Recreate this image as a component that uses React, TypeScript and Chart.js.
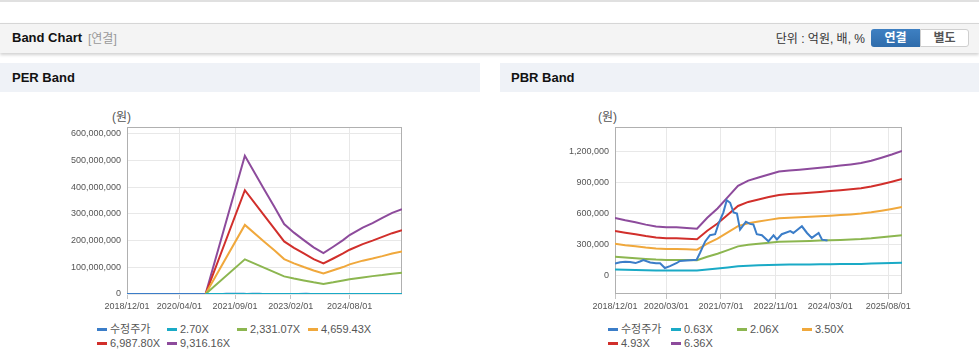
import React, { useEffect, useRef } from 'react';
import { Chart, registerables } from 'chart.js';

Chart.register(...registerables);

const FONT = "'Liberation Sans', Arial, 'Noto Sans CJK KR', sans-serif";

// ---- x axis: months since 2018/12 ----
const X_MAX_MONTH = 84;
const perTickMonths = [0, 16, 33, 50, 68];
const perTickLabels = ['2018/12/01', '2020/04/01', '2021/09/01', '2023/02/01', '2024/08/01'];
const pbrTickMonths = [0, 15, 31, 47, 63, 80];
const pbrTickLabels = ['2018/12/01', '2020/03/01', '2021/07/01', '2022/11/01', '2024/03/01', '2025/08/01'];

// ---- y axis ticks ----
const perYTicks = [0, 100000000, 200000000, 300000000, 400000000, 500000000, 600000000];
const perYMin = 0;
const perYMax = 626000000;
const pbrYTicks = [0, 300000, 600000, 900000, 1200000];
const pbrYMin = -180000;
const pbrYMax = 1440000;

// ---- legend labels ----
const priceLabel = '수정주가';
const perBandLabels = ['2.70X', '2,331.07X', '4,659.43X', '6,987.80X', '9,316.16X'];
const pbrBandLabels = ['0.63X', '2.06X', '3.50X', '4.93X', '6.36X'];

// ---- 수정주가 (adjusted price, 원) ----
const priceMonths = [0, 1.5, 3, 4.4, 6, 7.3, 8.3, 10.3, 12, 13.2, 14.6, 16.1, 18.1, 19, 22, 23.9, 24.9, 26.4, 27.8, 29.3, 30.3, 31.7, 32.7, 33.7, 34.7, 35.7, 36.6, 38.3, 39.5, 40.5, 41.5, 43, 44.9, 46.4, 47.4, 48.8, 51.3, 52.2, 54.7, 56.2, 57.6, 59.6, 60.6, 62.2];
const priceValues = [115000, 128000, 133000, 130000, 120000, 135000, 150000, 126000, 118000, 118000, 72000, 90000, 121000, 140000, 148000, 152000, 220000, 330000, 390000, 400000, 500000, 610000, 730000, 705000, 610000, 600000, 445000, 520000, 500000, 495000, 400000, 390000, 331000, 390000, 350000, 400000, 430000, 412000, 477000, 412000, 364000, 412000, 347000, 338000];

// ---- PER bands (원) ----
const perBandMonths = [24, 36, 42, 45, 48, 51, 54, 57, 60, 63, 66, 68, 72, 75, 78, 81, 84];
const perBand270 = [0, 150000, 113000, 95000, 76000, 67000, 59000, 51000, 44000, 51000, 59000, 64000, 72000, 77000, 83000, 88000, 92000];
const perBand2331 = [0, 130e6, 98e6, 82e6, 66e6, 58e6, 51e6, 44e6, 38e6, 44e6, 51e6, 55e6, 62e6, 67e6, 71e6, 76e6, 80e6];
const perBand4659 = [0, 259e6, 195e6, 164e6, 131e6, 115e6, 101e6, 88e6, 77e6, 89e6, 101e6, 111e6, 125e6, 133e6, 142e6, 152e6, 159e6];
const perBand6987 = [0, 389e6, 293e6, 245e6, 197e6, 173e6, 152e6, 131e6, 115e6, 133e6, 152e6, 166e6, 187e6, 200e6, 214e6, 228e6, 239e6];
const perBand9316 = [0, 518e6, 390e6, 327e6, 262e6, 230e6, 202e6, 175e6, 153e6, 177e6, 202e6, 221e6, 249e6, 266e6, 285e6, 304e6, 318e6];

// ---- PBR bands (원) ----
const pbrBandMonths = [0, 3, 6, 9, 12, 15, 18, 21, 24, 27, 30, 33, 36, 39, 42, 45, 48, 51, 54, 57, 60, 63, 66, 69, 72, 75, 78, 81, 84];
const pbrBand063 = [57000, 55000, 53000, 51000, 49000, 48000, 48000, 47000, 47000, 58000, 67000, 78000, 90000, 95000, 98000, 101000, 104000, 105000, 106000, 107000, 108000, 109000, 110000, 111000, 112000, 115000, 118000, 121000, 124000];
const pbrBand206 = [181000, 173000, 167000, 160000, 154000, 151000, 151000, 149000, 147000, 181000, 211000, 246000, 282000, 298000, 308000, 318000, 327000, 330000, 332000, 335000, 339000, 342000, 345000, 349000, 353000, 360000, 370000, 380000, 391000];
const pbrBand350 = [307000, 294000, 284000, 271000, 261000, 257000, 257000, 253000, 250000, 308000, 358000, 418000, 479000, 506000, 523000, 539000, 554000, 560000, 564000, 569000, 575000, 580000, 586000, 592000, 600000, 612000, 628000, 645000, 664000];
const pbrBand493 = [432000, 415000, 400000, 382000, 367000, 362000, 362000, 357000, 352000, 434000, 504000, 589000, 674000, 713000, 736000, 760000, 781000, 789000, 795000, 802000, 810000, 818000, 826000, 835000, 845000, 862000, 885000, 909000, 935000];
const pbrBand636 = [558000, 535000, 516000, 493000, 474000, 467000, 467000, 460000, 454000, 560000, 650000, 760000, 870000, 920000, 950000, 980000, 1008000, 1018000, 1026000, 1035000, 1045000, 1055000, 1066000, 1077000, 1090000, 1112000, 1142000, 1173000, 1207000];

const COLORS = {
  price: '#3b7dc8',
  cyan: '#1aaac6',
  green: '#8cb650',
  orange: '#f0a83c',
  red: '#d12f2b',
  purple: '#8d4b9c',
};
const bandColors = [COLORS.cyan, COLORS.green, COLORS.orange, COLORS.red, COLORS.purple];

const xy = (xs: number[], ys: number[]) => xs.map((x, i) => ({ x, y: ys[i] }));

const framePlugin = {
  id: 'frame',
  beforeDatasetsDraw(chart: any) {
    const { ctx, chartArea } = chart;
    const l = Math.round(chartArea.left) + 0.5;
    const t = Math.round(chartArea.top) + 0.5;
    const r = Math.round(chartArea.right) - 0.5;
    const b = Math.round(chartArea.bottom) - 0.5;
    ctx.save();
    ctx.strokeStyle = '#b0b0b0';
    ctx.lineWidth = 1;
    ctx.strokeRect(l, t, r - l, b - t);
    ctx.restore();
  },
};

function makeConfig(p: {
  datasets: any[];
  tickMonths: number[];
  tickLabels: string[];
  yTicks: number[];
  yMin: number;
  yMax: number;
  yWidth: number;
  padding: { left: number; right: number; top: number; bottom: number };
}) {
  return {
    type: 'line',
    data: { datasets: p.datasets },
    plugins: [framePlugin],
    options: {
      animation: false,
      responsive: false,
      maintainAspectRatio: false,
      layout: { padding: p.padding },
      plugins: { legend: { display: false }, tooltip: { enabled: false } },
      elements: { point: { radius: 0 }, line: { borderWidth: 2, tension: 0 } },
      scales: {
        x: {
          type: 'linear',
          min: 0,
          max: X_MAX_MONTH,
          afterBuildTicks: (s: any) => {
            s.ticks = p.tickMonths.map((v) => ({ value: v }));
          },
          afterFit: (s: any) => {
            s.height = 20;
          },
          ticks: {
            autoSkip: false,
            maxRotation: 0,
            padding: 2,
            color: '#555',
            font: { family: FONT, size: 9 },
            callback: (v: any) => {
              const i = p.tickMonths.indexOf(Number(v));
              return i >= 0 ? p.tickLabels[i] : '';
            },
          },
          grid: { color: '#e8e8e8', tickLength: 5, tickColor: '#c4c4c4' },
          border: { display: false },
        },
        y: {
          type: 'linear',
          min: p.yMin,
          max: p.yMax,
          afterBuildTicks: (s: any) => {
            s.ticks = p.yTicks.map((v) => ({ value: v }));
          },
          afterFit: (s: any) => {
            s.width = p.yWidth;
          },
          ticks: {
            padding: 6,
            color: '#555',
            font: { family: FONT, size: 9 },
            callback: (v: any) => Number(v).toLocaleString('en-US'),
          },
          grid: { color: '#e8e8e8', drawTicks: false },
          border: { display: false },
        },
      },
    },
  };
}

function ChartCanvas({ config, left, top, width, height }: any) {
  const ref = useRef<HTMLCanvasElement>(null);
  useEffect(() => {
    const chart = new Chart(ref.current as HTMLCanvasElement, config);
    return () => chart.destroy();
  }, []);
  return (
    <canvas
      ref={ref}
      width={width}
      height={height}
      style={{ position: 'absolute', left, top, width, height }}
    />
  );
}

const perConfig = makeConfig({
  datasets: [
    { label: priceLabel, data: xy(priceMonths, priceValues), borderColor: COLORS.price, order: 3 },
    ...[perBand270, perBand2331, perBand4659, perBand6987, perBand9316].map((vals, i) => ({
      label: perBandLabels[i],
      data: xy(perBandMonths, vals),
      borderColor: bandColors[i],
      order: 1,
    })),
  ],
  tickMonths: perTickMonths,
  tickLabels: perTickLabels,
  yTicks: perYTicks,
  yMin: perYMin,
  yMax: perYMax,
  yWidth: 80,
  padding: { left: 47, right: 78, top: 27, bottom: 6 },
});

const pbrConfig = makeConfig({
  datasets: [
    { label: priceLabel, data: xy(priceMonths, priceValues), borderColor: COLORS.price, order: 0 },
    ...[pbrBand063, pbrBand206, pbrBand350, pbrBand493, pbrBand636].map((vals, i) => ({
      label: pbrBandLabels[i],
      data: xy(pbrBandMonths, vals),
      borderColor: bandColors[i],
      order: 1,
    })),
  ],
  tickMonths: pbrTickMonths,
  tickLabels: pbrTickLabels,
  yTicks: pbrYTicks,
  yMin: pbrYMin,
  yMax: pbrYMax,
  yWidth: 60,
  padding: { left: 65, right: 77, top: 27, bottom: 6 },
});

function Legend({ labels, cols, rows }: { labels: string[]; cols: number[]; rows: number[] }) {
  const colors = [COLORS.price, ...bandColors];
  return (
    <>
      {labels.map((lab, i) => {
        const x = cols[i % 4];
        const y = rows[Math.floor(i / 4)];
        return (
          <React.Fragment key={i}>
            <div style={{ position: 'absolute', left: x, top: y - 1, width: 10, height: 3, background: colors[i] }} />
            <div
              style={{
                position: 'absolute',
                left: x + 13,
                top: y - 7,
                height: 14,
                lineHeight: '14px',
                fontSize: 11,
                color: '#555',
                whiteSpace: 'nowrap',
                fontFamily: FONT,
              }}
            >
              {lab}
            </div>
          </React.Fragment>
        );
      })}
    </>
  );
}

export default function App() {
  const abs = (o: any) => ({ position: 'absolute' as const, ...o });
  return (
    <div style={{ position: 'relative', width: 979, height: 361, overflow: 'hidden', background: '#fff', fontFamily: FONT }}>
      <style>{`body{margin:0;}`}</style>
      <div style={abs({ left: 0, top: 0, width: 979, height: 2, background: '#e0e0e0' })} />
      {/* header bar */}
      <div
        style={abs({
          left: 0,
          top: 23,
          width: 979,
          height: 30,
          background: '#f4f4f4',
          borderTop: '1px solid #d6d6d6',
          boxSizing: 'border-box',
          boxShadow: '0 2px 3px rgba(0,0,0,0.18)',
        })}
      />
      <div style={abs({ left: 12, top: 30, lineHeight: '16px', fontSize: 13, fontWeight: 'bold', color: '#111' })}>Band Chart</div>
      <div style={abs({ left: 88, top: 31, lineHeight: '16px', fontSize: 12, color: '#999' })}>[연결]</div>
      <div style={abs({ right: 114, top: 31, lineHeight: '16px', fontSize: 12, color: '#333', whiteSpace: 'nowrap' })}>
        단위 : 억원, 배, %
      </div>
      <div
        style={abs({
          left: 871,
          top: 29,
          width: 49,
          height: 18,
          background: 'linear-gradient(#3e80c2, #2f6cab)',
          borderRadius: '3px 0 0 3px',
          color: '#fff',
          fontSize: 12,
          fontWeight: 'bold',
          lineHeight: '18px',
          textAlign: 'center',
        })}
      >
        연결
      </div>
      <div
        style={abs({
          left: 920,
          top: 29,
          width: 49,
          height: 18,
          boxSizing: 'border-box',
          background: '#fff',
          border: '1px solid #cfcfcf',
          borderRadius: '0 3px 3px 0',
          color: '#555',
          fontSize: 12,
          fontWeight: 'bold',
          lineHeight: '16px',
          textAlign: 'center',
        })}
      >
        별도
      </div>

      {/* section headers */}
      <div style={abs({ left: 0, top: 63, width: 480, height: 29, background: '#eff2f7' })} />
      <div style={abs({ left: 12, top: 70, lineHeight: '16px', fontSize: 13, fontWeight: 'bold', color: '#111' })}>PER Band</div>
      <div style={abs({ left: 500, top: 63, width: 479, height: 29, background: '#eff2f7' })} />
      <div style={abs({ left: 511, top: 70, lineHeight: '16px', fontSize: 13, fontWeight: 'bold', color: '#111' })}>PBR Band</div>

      {/* unit labels */}
      <div style={abs({ left: 112, top: 109, lineHeight: '16px', fontSize: 12, color: '#555' })}>(원)</div>
      <div style={abs({ left: 598, top: 109, lineHeight: '16px', fontSize: 12, color: '#555' })}>(원)</div>

      <ChartCanvas config={perConfig} left={0} top={100} width={480} height={220} />
      <ChartCanvas config={pbrConfig} left={490} top={100} width={489} height={220} />

      <Legend labels={[priceLabel, ...perBandLabels]} cols={[97, 167, 237, 308]} rows={[329, 343]} />
      <Legend labels={[priceLabel, ...pbrBandLabels]} cols={[608, 671, 737, 802]} rows={[329, 343]} />
    </div>
  );
}
